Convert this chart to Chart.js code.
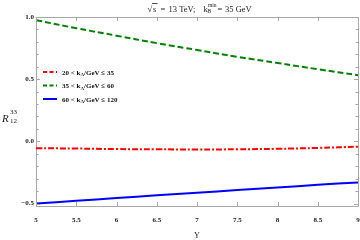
<!DOCTYPE html>
<html><head><meta charset="utf-8">
<script src="https://cdn.jsdelivr.net/npm/chart.js@4/dist/chart.umd.min.js"></script>
<style>html,body{margin:0;padding:0;background:#fff}#w{width:360px;height:240px}</style>
</head><body><div id="w"><canvas id="c"></canvas></div>
<script>
const yValues = [5, 5.5, 6, 6.5, 7, 7.5, 8, 8.5, 9];
const ratioLow = [-0.055, -0.058, -0.062, -0.064, -0.065, -0.064, -0.060, -0.053, -0.043];
const ratioMid = [0.975, 0.910, 0.850, 0.790, 0.735, 0.680, 0.630, 0.580, 0.532];
const ratioHigh = [-0.500, -0.478, -0.456, -0.434, -0.413, -0.392, -0.371, -0.350, -0.330];
const seriesLabels = [["20 < k", "A", "/GeV ≤ 35"], ["35 < k", "A", "/GeV ≤ 60"], ["60 < k", "A", "/GeV ≤ 120"]];
const xTickLabels = ["5", "5.5", "6", "6.5", "7", "7.5", "8", "8.5", "9"];
const yTickLabels = {"-0.5": "−0.5", "0": "0.0", "0.5": "0.5", "1": "1.0"};

const pts = a => yValues.map((x, i) => ({x: x, y: a[i]}));
const SERIF = "'Liberation Serif', 'DejaVu Serif', serif";
const FRAME = '#a8a8a8';

const frame = {
  id: 'frame',
  afterDatasetsDraw(chart) {
    const ctx = chart.ctx, a = chart.chartArea;
    const xs = chart.scales.x, ys = chart.scales.y;
    ctx.save();
    ctx.setLineDash([]);
    ctx.strokeStyle = FRAME;
    ctx.lineWidth = 1;
    const L = a.left, R = a.right, T = a.top, B = a.bottom;
    ctx.beginPath();
    xs.ticks.forEach(t => {
      const px = Math.round(xs.getPixelForValue(t.value)) + 0.5;
      ctx.moveTo(px, B); ctx.lineTo(px, B - 4);
      ctx.moveTo(px, T); ctx.lineTo(px, T + 4);
    });
    ys.ticks.forEach(t => {
      const major = Math.abs(t.value * 2 - Math.round(t.value * 2)) < 1e-6;
      const len = major ? 4 : 2.5;
      const py = Math.round(ys.getPixelForValue(t.value)) + 0.5;
      ctx.moveTo(L, py); ctx.lineTo(L + len, py);
      ctx.moveTo(R, py); ctx.lineTo(R - len, py);
    });
    ctx.stroke();
    ctx.restore();
  },
  afterDraw(chart) {
    const ctx = chart.ctx, a = chart.chartArea;
    ctx.save();
    // title
    ctx.fillStyle = '#222';
    ctx.textBaseline = 'alphabetic';
    const y = 11.5;
    ctx.font = '8.5px ' + SERIF;
    ctx.fillText('√', 147.5, y);
    ctx.fillText('s', 153, y);
    ctx.fillRect(152, 3.2, 5.5, 0.8);
    ctx.fillText('=', 160.5, y);
    ctx.fillText('13 TeV;', 168.5, y);
    ctx.fillText('k', 203.5, y);
    ctx.font = '5.5px ' + SERIF;
    ctx.fillText('B', 207.5, y + 1.8);
    ctx.fillText('min', 208, y - 4.2);
    ctx.font = '8.5px ' + SERIF;
    ctx.fillText('=', 217.5, y);
    ctx.fillText('35 GeV', 225, y);

    // y title
    ctx.font = 'italic 11px ' + SERIF;
    ctx.fillText('R', 2, 122);
    ctx.font = '7px ' + SERIF;
    ctx.fillText('33', 10, 114);
    ctx.fillText('12', 10, 123);

    // x title
    ctx.font = '8px ' + SERIF;
    ctx.textAlign = 'center';
    ctx.fillText('Y', (a.left + a.right) / 2, 238);
    ctx.textAlign = 'left';

    // legend
    const rows = [72, 85.5, 99];
    chart.data.datasets.forEach((ds, i) => {
      const ry = rows[i];
      ctx.save();
      ctx.strokeStyle = ds.borderColor;
      ctx.lineWidth = 2;
      ctx.setLineDash(i === 2 ? [] : [4, 2.5]);
      ctx.beginPath(); ctx.moveTo(43, ry); ctx.lineTo(57, ry); ctx.stroke();
      ctx.restore();
      const parts = seriesLabels[i];
      let lx = 62;
      ctx.fillStyle = '#111';
      ctx.font = 'bold 7px ' + SERIF;
      ctx.fillText(parts[0], lx, ry + 2.5); lx += ctx.measureText(parts[0]).width;
      ctx.font = 'bold 5px ' + SERIF;
      ctx.fillText(parts[1], lx, ry + 4); lx += ctx.measureText(parts[1]).width;
      ctx.font = 'bold 7px ' + SERIF;
      ctx.fillText(parts[2], lx, ry + 2.5);
    });
    ctx.restore();
  }
};

const hiddenAxis = (pos) => ({
  type: 'linear', position: pos, display: true,
  grid: {display: false, drawTicks: false}, border: {display: true, color: FRAME, width: 1},
  ticks: {display: false, padding: 0},
  afterFit(s) { if (pos === 'top') s.height = 0; else s.width = 0; }
});

new Chart(document.getElementById('c'), {
  type: 'line',
  data: {
    datasets: [
      {label: seriesLabels[0].join(''), data: pts(ratioLow), borderColor: '#ff0000', borderWidth: 2, borderDash: [6, 2, 2, 2], pointRadius: 0, tension: 0.4, fill: false},
      {label: seriesLabels[1].join(''), data: pts(ratioMid), borderColor: '#008000', borderWidth: 2, borderDash: [6, 3], pointRadius: 0, tension: 0.4, fill: false},
      {label: seriesLabels[2].join(''), data: pts(ratioHigh), borderColor: '#0000ff', borderWidth: 2, pointRadius: 0, tension: 0.4, fill: false}
    ]
  },
  options: {
    responsive: true, maintainAspectRatio: false, animation: false,
    layout: {padding: {top: 17, right: 2, left: 0, bottom: 0}},
    plugins: {legend: {display: false}, tooltip: {enabled: false}, title: {display: false}},
    scales: {
      x: {
        type: 'linear', min: 5, max: 9,
        grid: {display: true, drawOnChartArea: false, drawTicks: true, tickLength: 10, tickColor: 'rgba(0,0,0,0)'},
        border: {display: true, color: FRAME, width: 1},
        afterFit(s) { s.height = 34; },
        ticks: {stepSize: 0.5, autoSkip: false, maxRotation: 0, padding: 0, color: '#222',
          font: {family: SERIF, size: 7, weight: 'bold'},
          callback: (v, i) => xTickLabels[i] ?? ''}
      },
      x2: Object.assign(hiddenAxis('top'), {min: 5, max: 9}),
      y: {
        type: 'linear', min: -0.52, max: 1.0,
        grid: {display: false, drawTicks: false}, border: {display: true, color: FRAME, width: 1},
        afterFit(s) { s.width = 36; },
        afterBuildTicks(s) {
          const t = [];
          for (let k = -5; k <= 10; k++) t.push({value: k / 10});
          s.ticks = t;
        },
        ticks: {autoSkip: false, padding: 2, color: '#222',
          font: {family: SERIF, size: 7, weight: 'bold'},
          callback: v => { const key = String(Math.round(v * 10) / 10); return yTickLabels[key] ?? ''; }}
      },
      y2: Object.assign(hiddenAxis('right'), {min: -0.52, max: 1.0})
    }
  },
  plugins: [frame]
});
</script></body></html>
